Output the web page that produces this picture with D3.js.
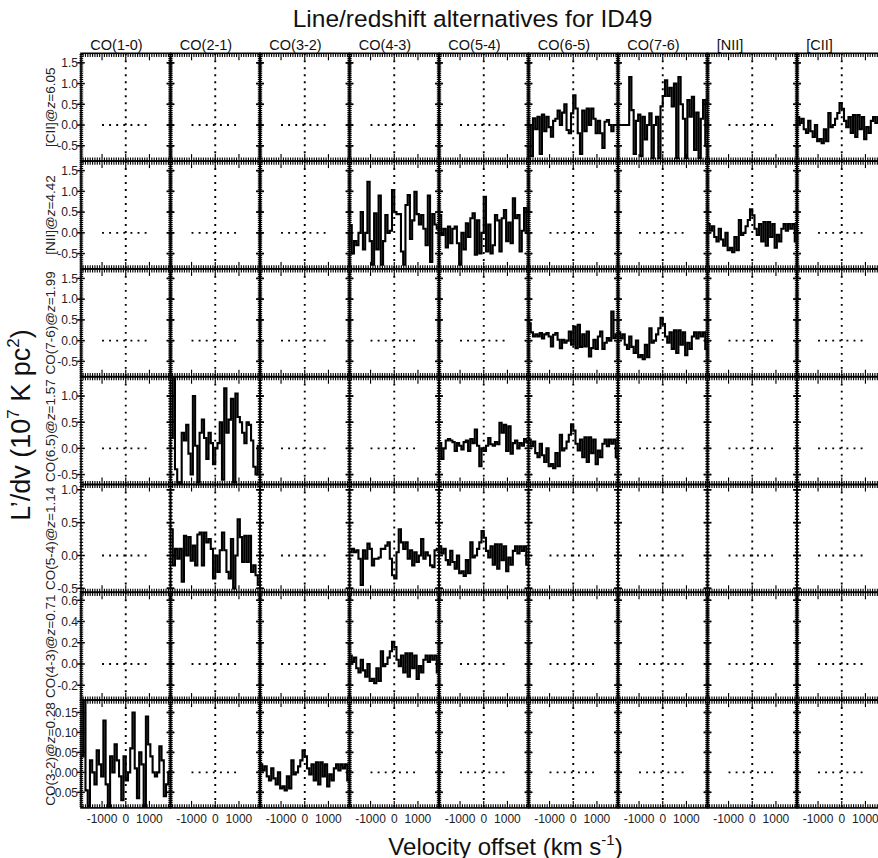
<!DOCTYPE html>
<html><head><meta charset="utf-8">
<script src="https://cdn.jsdelivr.net/npm/d3@7"></script>
<style>
body{margin:0;background:#fff;}
svg{display:block;font-family:"Liberation Sans",Arial,Helvetica,sans-serif;}
</style>
</head><body>
<svg id="chart" width="878" height="858"></svg>
<script>
// ---------------- data ----------------
const titleText = "Line/redshift alternatives for ID49";
const columnLabels = ["CO(1-0)","CO(2-1)","CO(3-2)","CO(4-3)","CO(5-4)","CO(6-5)","CO(7-6)","[NII]","[CII]"];
const rowLines = ["[CII]","[NII]","CO(7-6)","CO(6.5)","CO(5-4)","CO(4-3)","CO(3-2)"];
const rowRedshifts = ["6.05","4.42","1.99","1.57","1.14","0.71","0.28"];
const rowYMin = [-0.87,-0.87,-0.87,-0.69,-0.56,-0.34,-0.089];
const rowYMax = [1.73,1.73,1.73,1.37,1.08,0.675,0.181];
const rowTickValues = [
  [-0.5,0,0.5,1.0,1.5],[-0.5,0,0.5,1.0,1.5],[-0.5,0,0.5,1.0,1.5],
  [-0.5,0,0.5,1.0],[-0.5,0,0.5,1.0],[-0.2,0,0.2,0.4,0.6],[-0.05,0,0.05,0.10,0.15]];
const rowTickLabels = [
  ["-0.5","0.0","0.5","1.0","1.5"],["-0.5","0.0","0.5","1.0","1.5"],["-0.5","0.0","0.5","1.0","1.5"],
  ["-0.5","0.0","0.5","1.0"],["-0.5","0.0","0.5","1.0"],["-0.2","0.0","0.2","0.4","0.6"],
  ["-0.05","0.00","0.05","0.10","0.15"]];
const rowMinorStep = [0.05,0.05,0.05,0.05,0.05,0.02,0.005];
const velocityRange = [-1888,1888];
const xTickValues = [-1000,0,1000];
const xTickLabels = ["-1000","0","1000"];
const xMinorStep = 100;

// spectra (L'/dv per velocity channel, 40 channels spanning the panel)
const specCII_CO65 = [0.0,-0.75,0.16,-0.1,0.2,-0.7,0.25,-0.15,0.2,-0.05,-0.28,0.1,0.15,0.35,0.0,0.3,0.5,-0.12,-0.2,0.28,0.72,0.4,-0.2,-0.7,0.35,-0.15,0.4,0.0,0.4,0.15,-0.2,0.1,-0.2,-0.55,0.08,0.12,0.0,-0.15,0.0,0.0];
const specCII_CO76 = [0,0,0,0,0,1.16,0.36,-0.7,0.1,0.25,-0.75,0.2,-0.35,0.0,0.28,-0.8,0.0,0.2,-0.8,0.45,0.7,1.08,0.7,0.9,0.45,1.0,-0.8,1.16,0.5,0.15,-0.8,0.6,0.2,0.68,-0.6,0.3,-0.8,0.15,0.6,-0.5];
const specCII_CII = [0.19,0.05,0.15,-0.1,-0.19,0.1,-0.15,-0.29,0.0,-0.39,-0.34,-0.44,-0.1,-0.39,0.29,-0.05,0.0,0.15,0.29,0.53,0.39,0.1,-0.05,0.19,-0.19,0.24,-0.29,0.24,-0.1,0.19,-0.34,-0.05,-0.19,0.1,0.19,0.05,0.19,0.1,0.19,-0.19];
const specNII_CO43 = [0.19,-0.5,-0.2,-0.3,0.0,0.5,-0.4,0.0,1.23,-0.2,-0.77,0.47,-0.4,0.9,-0.77,-0.2,0.43,0.0,0.05,1.03,0.5,0.45,0.45,-0.45,-0.77,0.67,0.91,-0.15,0.3,0.99,0.45,0.2,0.43,0.1,-0.3,0.9,-0.7,0.45,0.2,0.1];
const specNII_CO54 = [0.43,-0.05,0.1,-0.35,0.15,-0.25,0.1,0.15,-0.25,-0.77,0.0,-0.4,0.23,-0.1,0.35,0.47,-0.53,0.3,-0.5,0.0,0.87,-0.45,0.2,-0.5,-0.3,0.43,0.3,-0.45,0.35,0.55,-0.2,0.25,-0.25,0.83,0.35,0.43,-0.45,0.05,0.6,0.0];
const specNII_NII = [0.21,0.05,0.16,-0.1,-0.21,0.1,-0.16,-0.31,0.0,-0.42,-0.36,-0.47,-0.1,-0.42,0.31,-0.05,0.0,0.16,0.31,0.57,0.42,0.1,-0.05,0.21,-0.21,0.26,-0.31,0.26,-0.1,0.21,-0.36,-0.05,-0.21,0.1,0.21,0.05,0.21,0.1,0.21,-0.21];
const specCO76_CO65 = [0.42,0.2,0.1,0.15,0.1,0.18,0.05,0.15,0.18,0.1,-0.14,0.14,0.18,0.02,-0.18,0.02,-0.05,0.0,0.22,-0.1,0.34,-0.18,0.38,-0.15,0.15,-0.14,0.22,-0.38,-0.18,0.02,-0.2,0.1,0.22,-0.2,-0.05,0.06,0.0,0.7,0.06,0.15];
const specCO76_CO76 = [0.2,0.05,0.15,-0.1,-0.2,0.1,-0.15,-0.3,0.0,-0.4,-0.35,-0.45,-0.1,-0.4,0.3,-0.05,0.0,0.15,0.3,0.55,0.4,0.1,-0.05,0.2,-0.2,0.25,-0.3,0.25,-0.1,0.2,-0.35,-0.05,-0.2,0.1,0.2,0.05,0.2,0.1,0.2,-0.2];
const specCO65_CO21 = [0.2,1.4,-0.4,-0.65,-0.7,0.3,0.15,0.45,-0.1,-0.5,1.0,0.05,-0.65,0.3,0.55,0.2,-0.2,0.3,0.1,-0.3,0.0,0.1,0.5,-0.6,1.15,0.3,0.55,0.95,-0.65,1.05,0.6,0.5,0.3,0.1,0.5,0.45,0.15,-0.35,-0.5,0.05];
const specCO65_CO54 = [0.1,-0.2,0.0,0.15,0.18,0.15,0.12,-0.05,0.1,0.05,-0.02,0.12,0.15,-0.05,0.18,0.1,0.36,0.05,-0.34,0.0,-0.05,0.05,0.2,0.08,0.05,0.12,0.08,0.49,0.3,0.45,-0.05,0.42,-0.1,0.1,0.15,0.0,0.1,0.05,0.18,0.12];
const specCO65_CO65 = [0.17,0.04,0.13,-0.09,-0.17,0.09,-0.13,-0.26,0.0,-0.34,-0.3,-0.38,-0.09,-0.34,0.26,-0.04,0.0,0.13,0.26,0.46,0.34,0.09,-0.04,0.17,-0.17,0.21,-0.26,0.21,-0.09,0.17,-0.3,-0.04,-0.17,0.09,0.17,0.04,0.17,0.09,0.17,-0.17];
const specCO54_CO21 = [0.4,-0.15,0.1,-0.05,0.1,-0.4,0.3,0.0,0.28,-0.08,0.15,-0.15,0.32,0.35,-0.15,0.35,0.2,0.25,0.1,-0.35,0.0,-0.25,0.08,0.35,0.08,-0.25,-0.35,0.25,-0.5,0.0,0.55,0.28,-0.1,0.3,-0.1,0.3,-0.25,-0.15,-0.3,-0.45];
const specCO54_CO43 = [0.05,0.1,0.05,0.08,-0.05,-0.45,0.08,-0.05,0.18,0.1,-0.15,-0.05,-0.05,-0.03,0.1,0.1,0.15,0.2,-0.05,-0.3,-0.35,0.05,0.4,0.2,0.1,0.2,-0.05,0.08,-0.15,0.05,-0.1,0.0,0.25,-0.05,0.05,0.0,-0.15,-0.18,0.08,0.1];
const specCO54_CO54 = [0.14,0.03,0.1,-0.07,-0.14,0.07,-0.1,-0.2,0.0,-0.27,-0.24,-0.31,-0.07,-0.27,0.2,-0.03,0.0,0.1,0.2,0.37,0.27,0.07,-0.03,0.14,-0.14,0.17,-0.2,0.17,-0.07,0.14,-0.24,-0.03,-0.14,0.07,0.14,0.03,0.14,0.07,0.14,-0.14];
const specCO43_CO43 = [0.08,0.02,0.06,-0.04,-0.08,0.04,-0.06,-0.12,0.0,-0.16,-0.14,-0.18,-0.04,-0.16,0.12,-0.02,0.0,0.06,0.12,0.21,0.16,0.04,-0.02,0.08,-0.08,0.1,-0.12,0.1,-0.04,0.08,-0.14,-0.02,-0.08,0.04,0.08,0.02,0.08,0.04,0.08,-0.08];
const specCO32_CO10 = [0.04,0.25,-0.045,-0.085,0.03,0.0,-0.03,0.055,0.02,-0.01,0.13,-0.03,-0.09,0.04,0.0,0.07,0.03,-0.01,-0.07,0.04,-0.02,0.0,0.06,0.15,0.01,-0.065,0.05,0.02,-0.09,0.14,0.07,0.04,0.0,-0.01,0.0,0.065,0.03,-0.06,-0.03,0.0];
const specCO32_CO32 = [0.02,0.005,0.015,-0.01,-0.02,0.01,-0.015,-0.03,0.0,-0.04,-0.035,-0.045,-0.01,-0.04,0.03,-0.005,0.0,0.015,0.03,0.055,0.04,0.01,-0.005,0.02,-0.02,0.025,-0.03,0.025,-0.01,0.02,-0.035,-0.005,-0.02,0.01,0.02,0.005,0.02,0.01,0.02,-0.02];

const panelSpectra = [
  {row:0,col:5,values:specCII_CO65},{row:0,col:6,values:specCII_CO76},{row:0,col:8,values:specCII_CII},
  {row:1,col:3,values:specNII_CO43},{row:1,col:4,values:specNII_CO54},{row:1,col:7,values:specNII_NII},
  {row:2,col:5,values:specCO76_CO65},{row:2,col:6,values:specCO76_CO76},
  {row:3,col:1,values:specCO65_CO21},{row:3,col:4,values:specCO65_CO54},{row:3,col:5,values:specCO65_CO65},
  {row:4,col:1,values:specCO54_CO21},{row:4,col:3,values:specCO54_CO43},{row:4,col:4,values:specCO54_CO54},
  {row:5,col:3,values:specCO43_CO43},
  {row:6,col:0,values:specCO32_CO10},{row:6,col:2,values:specCO32_CO32}
];

// ---------------- layout ----------------
const svg = d3.select("#chart");
const nCols = columnLabels.length, nRows = rowLines.length;
const colScale = d3.scaleBand().domain(d3.range(nCols)).range([81, 81 + 89.5 * nCols]).paddingInner(0).paddingOuter(0);
const rowScale = d3.scaleBand().domain(d3.range(nRows)).range([53.3, 807.9]).paddingInner(0).paddingOuter(0);
const W = colScale.bandwidth(), H = rowScale.bandwidth();
const x = d3.scaleLinear().domain(velocityRange).range([0, W]);

const specLookup = new Map(panelSpectra.map(p => [p.row + "_" + p.col, p.values]));

const defs = svg.append("defs");
defs.append("clipPath").attr("id","panelClip").append("rect").attr("x",0).attr("y",0).attr("width",W).attr("height",H);

for (let r = 0; r < nRows; r++) {
  const y = d3.scaleLinear().domain([rowYMin[r], rowYMax[r]]).range([H, 0]);
  const minorY = d3.range(Math.ceil(rowYMin[r] / rowMinorStep[r]) * rowMinorStep[r], rowYMax[r], rowMinorStep[r]);
  for (let c = 0; c < nCols; c++) {
    const g = svg.append("g").attr("transform", `translate(${colScale(c)},${rowScale(r)})`);
    const vals = specLookup.get(r + "_" + c);
    const inner = g.append("g").attr("clip-path","url(#panelClip)");
    // vertical dotted zero-velocity line
    inner.append("line").attr("x1",x(0)).attr("x2",x(0)).attr("y1",0).attr("y2",H)
      .attr("stroke","#000").attr("stroke-width",1.9).attr("stroke-dasharray","1.9,5.1");
    if (!vals) {
      inner.append("line").attr("x1",x(-1000)).attr("x2",x(1000)).attr("y1",y(0)).attr("y2",y(0))
        .attr("stroke","#000").attr("stroke-width",1.9).attr("stroke-dasharray","1.9,5.2");
    } else {
      const n = vals.length;
      const edges = d3.range(n + 1).map(i => velocityRange[0] + i * (velocityRange[1] - velocityRange[0]) / n);
      const pts = vals.map((v, i) => [edges[i], v]).concat([[edges[n], vals[n - 1]]]);
      const line = d3.line().x(d => x(d[0])).y(d => y(d[1])).curve(d3.curveStepAfter);
      inner.append("path").attr("d", line(pts)).attr("fill","none").attr("stroke","#000")
        .attr("stroke-width",2.1).attr("stroke-linejoin","miter");
    }
    // x ticks (top and bottom)
    const minorX = d3.range(-1800, 1801, xMinorStep);
    const tk = g.append("g").attr("stroke","#000").attr("stroke-width",1.15);
    minorX.forEach(v => {
      const isMajor = xTickValues.includes(v);
      const L = isMajor ? 7 : 3.6;
      tk.append("line").attr("x1",x(v)).attr("x2",x(v)).attr("y1",0).attr("y2",L);
      tk.append("line").attr("x1",x(v)).attr("x2",x(v)).attr("y1",H).attr("y2",H - L);
    });
    // y ticks (left and right)
    minorY.forEach(v => {
      tk.append("line").attr("x1",-1.5).attr("x2",2.2).attr("y1",y(v)).attr("y2",y(v));
      tk.append("line").attr("x1",W - 2.2).attr("x2",W + 1.5).attr("y1",y(v)).attr("y2",y(v));
    });
    rowTickValues[r].forEach(v => {
      tk.append("line").attr("x1",-3.8).attr("x2",3.8).attr("y1",y(v)).attr("y2",y(v)).attr("stroke-width",1.5);
      tk.append("line").attr("x1",W - 3.8).attr("x2",W + 3.8).attr("y1",y(v)).attr("y2",y(v)).attr("stroke-width",1.5);
    });
    g.append("rect").attr("x",0).attr("y",0).attr("width",W).attr("height",H)
      .attr("fill","none").attr("stroke","#000").attr("stroke-width",1.6);

    // y tick labels on first column
    if (c === 0) {
      rowTickValues[r].forEach((v, i) => {
        g.append("text").attr("x",-3).attr("y",y(v)).attr("dy","0.36em").attr("text-anchor","end")
          .attr("font-size",12).attr("fill","#222").text(rowTickLabels[r][i]);
      });
    }
    // x tick labels on bottom row
    if (r === nRows - 1) {
      xTickValues.forEach((v, i) => {
        g.append("text").attr("x",x(v)).attr("y",H + 15.6).attr("text-anchor","middle")
          .attr("font-size",12).attr("fill","#222").text(xTickLabels[i]);
      });
    }
  }
  // row label
  const rl = svg.append("text")
    .attr("transform", `translate(54.5,${rowScale(r) + H / 2}) rotate(-90)`)
    .attr("text-anchor","middle").attr("font-size",13.5).attr("fill","#222");
  rl.append("tspan").text(rowLines[r] + "@");
  rl.append("tspan").attr("font-style","italic").text("z");
  rl.append("tspan").text("=" + rowRedshifts[r]);
}

// column labels
columnLabels.forEach((lab, c) => {
  svg.append("text").attr("x", colScale(c) + 9.3).attr("y", 49.5)
    .attr("font-size",14.5).attr("fill","#111").text(lab);
});

// title
svg.append("text").attr("x",472.5).attr("y",27).attr("text-anchor","middle")
  .attr("font-size",24.5).attr("fill","#111").text(titleText);

// x axis title
const xt = svg.append("text").attr("x",505.5).attr("y",854.5).attr("text-anchor","middle")
  .attr("font-size",24).attr("fill","#111");
xt.append("tspan").text("Velocity offset (km s");
xt.append("tspan").attr("dy",-10).attr("font-size",15).text("-1");
xt.append("tspan").attr("dy",10).text(")");

// y axis title
const yt = svg.append("text").attr("transform","translate(29.5,425) rotate(-90)")
  .attr("text-anchor","middle").attr("font-size",27).attr("fill","#111");
yt.append("tspan").text("L\u2019/dv (10");
yt.append("tspan").attr("dy",-11).attr("font-size",17).text("7");
yt.append("tspan").attr("dy",11).text(" K pc");
yt.append("tspan").attr("dy",-11).attr("font-size",17).text("2");
yt.append("tspan").attr("dy",11).text(")");
</script>
</body></html>
